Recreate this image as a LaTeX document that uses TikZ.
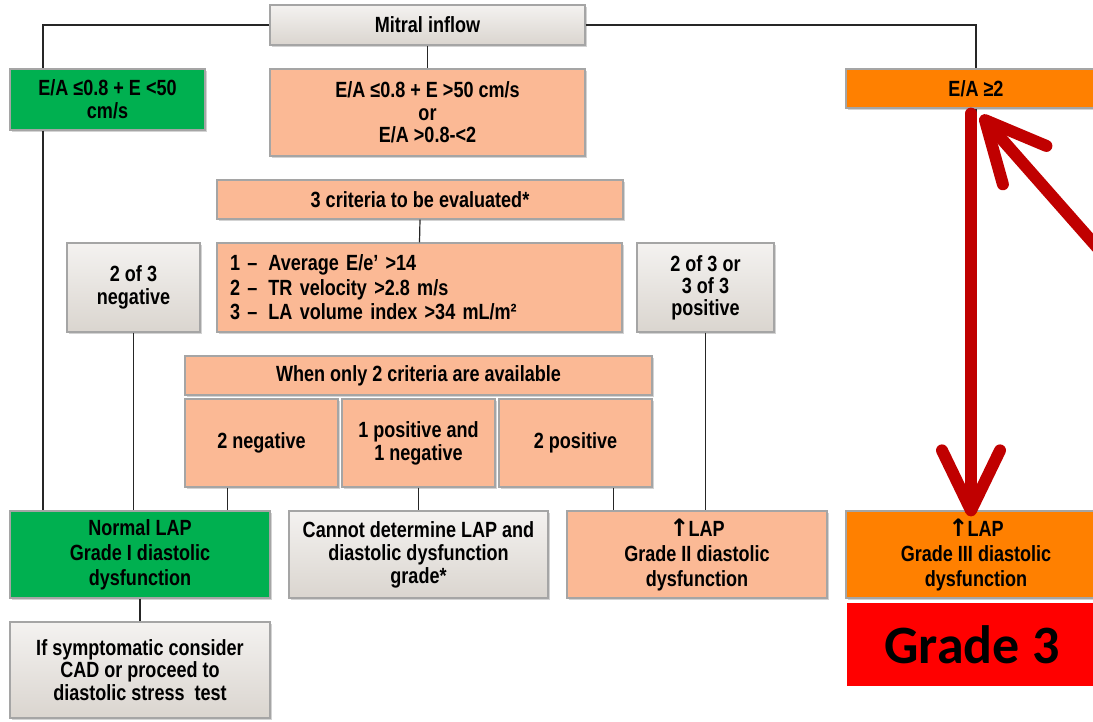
\documentclass[tikz,border=0pt]{standalone}
\usepackage{fontspec}
\setmainfont{Liberation Sans}[FakeStretch=0.82]
\newfontfamily\gradefont{Carlito}
\newfontfamily\arrowfont{DejaVu Sans}
\usetikzlibrary{arrows.meta,shadows}
\definecolor{boxgreen}{HTML}{00B050}
\definecolor{salmon}{HTML}{FBB995}
\definecolor{lapor}{HTML}{FF8000}
\definecolor{greytop}{HTML}{F4F2F0}
\definecolor{greybot}{HTML}{DAD5CF}
\definecolor{edge}{HTML}{A5A5A5}
\definecolor{arrowred}{HTML}{C00000}
\newcommand{\uparr}{{\arrowfont\bfseries\fontsize{24}{25}\selectfont ↑}\kern-1pt}
\tikzset{
    box/.style={draw=edge, line width=1.2pt, inner sep=2pt, align=center,
        font=\bfseries\fontsize{22}{23}\selectfont,
        drop shadow={shadow xshift=2pt, shadow yshift=-2pt, opacity=0.35}},
    greenbox/.style={box, fill=boxgreen},
    peach/.style={box, fill=salmon},
    orangebox/.style={box, fill=lapor},
    greybox/.style={box, top color=greytop, bottom color=greybot},
    link/.style={line width=1.2pt, black!85},
    bigarrow/.style={line width=12pt, arrowred, line cap=round,
        -{Straight Barb[length=60pt, width=58pt, round]}}
}
\begin{document}
\begin{tikzpicture}[x=1pt, y=-1pt]
    \useasboundingbox (0,0) rectangle (1093,722);
    \clip (0,0) rectangle (1093,722);
    \node[greybox, minimum width=315pt, minimum height=40pt] (mitral) at (427.5,25) {Mitral inflow};
    \node[greenbox, minimum width=195pt, minimum height=61pt] (ea1) at (107.5,99.5) {E/A ≤0.8 + E <50\\cm/s};
    \node[peach, minimum width=315pt, minimum height=87pt, font=\bfseries\fontsize{22}{22.5}\selectfont] (ea2) at (427.5,112.5) {E/A ≤0.8 + E >50 cm/s\\or\\E/A >0.8-<2};
    \node[orangebox, minimum width=260pt, minimum height=39pt] (ea3) at (976,88.5) {E/A ≥2};
    \node[peach, minimum width=406pt, minimum height=39pt] (crit) at (420,199.5) {3 criteria to be evaluated*};
    \node[peach, minimum width=405pt, minimum height=89pt, text width=379pt, align=left,
        font=\bfseries\fontsize{22}{24.5}\selectfont] (critlist) at (419.5,287.5)
        {1 –\enspace Average E/e’ >14\\2 –\enspace TR velocity >2.8 m/s\\3 –\enspace LA volume index >34 mL/m²};
    \node[greybox, minimum width=133pt, minimum height=89pt] (neg3) at (133.5,287.5) {2 of 3\\negative};
    \node[greybox, minimum width=137pt, minimum height=89pt, font=\bfseries\fontsize{22}{22}\selectfont] (pos3) at (705.5,287.5) {2 of 3 or\\3 of 3\\positive};
    \node[peach, minimum width=467pt, minimum height=39pt] (only2) at (418.5,375.5) {When only 2 criteria are available};
    \foreach \nm/\cx/\txt in {neg2/261.5/{2 negative}, mixed/418.5/{1 positive and\\1 negative}, pos2/575.5/{2 positive}}
        \node[peach, minimum width=153pt, minimum height=88pt] (\nm) at (\cx,443) {\txt};
    \node[greenbox, minimum width=260pt, minimum height=87pt, font=\bfseries\fontsize{22}{25}\selectfont] (grade1) at (140,554.5) {Normal LAP\\Grade I diastolic\\dysfunction};
    \node[greybox, minimum width=259pt, minimum height=87pt] (undet) at (418.5,554.5) {Cannot determine LAP and\\diastolic dysfunction\\grade*};
    \node[peach, minimum width=260pt, minimum height=87pt, font=\bfseries\fontsize{22}{25}\selectfont] (grade2) at (697,554.5) {\uparr LAP\\Grade II diastolic\\dysfunction};
    \node[orangebox, minimum width=260pt, minimum height=87pt, font=\bfseries\fontsize{22}{25}\selectfont] (grade3) at (976,554.5) {\uparr LAP\\Grade III diastolic\\dysfunction};
    \node[greybox, minimum width=260pt, minimum height=96pt, font=\bfseries\fontsize{22}{22.5}\selectfont] (symp) at (140,670) {If symptomatic consider\\CAD or proceed to\\diastolic stress\ \ test};
    \node[fill=red, minimum width=250pt, minimum height=83pt, inner sep=0pt,
        font=\gradefont\bfseries\fontsize{54}{60}\selectfont] (gradelbl) at (972,644.5) {Grade 3};
    \coordinate (lft) at (43,0);
    \draw[link] (mitral.west) -| (lft |- ea1.north);
    \draw[link] (lft |- ea1.south) -- (lft |- grade1.north);
    \draw[link] (mitral.east) -| (ea3.north);
    \draw[link] (mitral.south) -- (ea2.north);
    \draw[link] (crit.south) -- (critlist.north);
    \draw[link] (neg3.south) -- (neg3.south |- grade1.north);
    \draw[link] ([xshift=-34pt]neg2.south) -- ([xshift=-34pt]neg2.south |- grade1.north);
    \draw[link] (mixed.south) -- (undet.north);
    \draw[link] ([xshift=38pt]pos2.south) -- ([xshift=38pt]pos2.south |- grade2.north);
    \draw[link] (pos3.south) -- (pos3.south |- grade2.north);
    \draw[link] (grade1.south) -- (symp.north);
    \draw[link] (ea3.south) -- (grade3.north);
    \coordinate (tail) at (1170,330);
    \draw[bigarrow] ([shift={(-5pt,-5pt)}]ea3.south) -- ([shift={(-5pt,-6pt)}]grade3.north);
    \draw[bigarrow] (tail) -- ([shift={(5pt,-7pt)}]ea3.south);
\end{tikzpicture}
\end{document}
